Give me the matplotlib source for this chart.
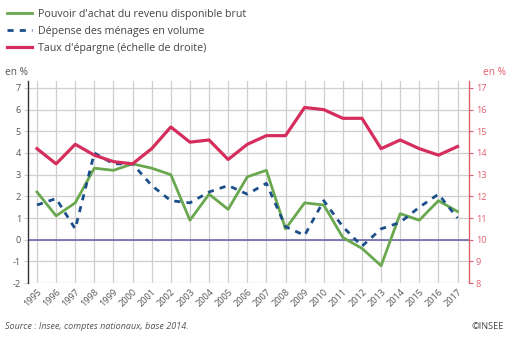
import matplotlib
matplotlib.use("Agg")
import matplotlib.pyplot as plt

years = list(range(1995, 2018))
pouvoir_achat = [2.2, 1.1, 1.7, 3.3, 3.2, 3.5, 3.3, 3.0, 0.9, 2.1, 1.4, 2.9,
                 3.2, 0.5, 1.7, 1.6, 0.1, -0.4, -1.2, 1.2, 0.9, 1.8, 1.3]
depense = [1.6, 1.9, 0.5, 4.0, 3.5, 3.5, 2.5, 1.8, 1.7, 2.2, 2.5, 2.1,
           2.6, 0.6, 0.2, 1.8, 0.6, -0.3, 0.5, 0.8, 1.5, 2.1, 1.0]
epargne = [14.2, 13.5, 14.4, 13.9, 13.6, 13.5, 14.2, 15.2, 14.5, 14.6, 13.7, 14.4,
           14.8, 14.8, 16.1, 16.0, 15.6, 15.6, 14.2, 14.6, 14.2, 13.9, 14.3]
left_ticks = list(range(-2, 8))
right_ticks = list(range(8, 18))

labels = ["Pouvoir d'achat du revenu disponible brut",
          "Dépense des ménages en volume",
          "Taux d'épargne (échelle de droite)"]

GREEN = "#6aa84f"
BLUE = "#1c4f8a"
RED = "#d62e5c"
AXRED = "#e0606e"
TXT = "#555555"

plt.rcParams['font.family'] = ['Open Sans', 'DejaVu Sans']

fig = plt.figure(figsize=(5.12, 3.39), dpi=100)
ax = fig.add_axes([0.0547, 0.165, 0.861, 0.596])
ax2 = ax.twinx()

ax.set_xlim(1994.53, 2017.59)
ax.set_ylim(-2, 7.32)
ax2.set_ylim(8, 17.32)

ax.set_xticks(years)
ax.set_xticklabels([str(y) for y in years], rotation=45, ha='right',
                   rotation_mode='anchor', fontsize=6.6, color=TXT)
ax.set_yticks(left_ticks)
ax.set_yticklabels([str(t) for t in left_ticks], fontsize=6.6, color=TXT)
ax2.set_yticks(right_ticks)
ax2.set_yticklabels([str(t) for t in right_ticks], fontsize=6.6, color=AXRED)

ax.grid(True, color="#cfcfcf", linewidth=0.9)
ax.set_axisbelow(True)
ax.tick_params(axis='x', length=0, pad=3)
ax.tick_params(axis='y', length=3, color="#cfcfcf", pad=2)
ax2.tick_params(axis='y', length=3, color=AXRED, pad=2)

for s in ['top', 'bottom', 'right']:
    ax.spines[s].set_visible(False)
for s in ['top', 'bottom', 'left']:
    ax2.spines[s].set_visible(False)
ax.spines['left'].set_color("#333333")
ax.spines['left'].set_linewidth(1.0)
ax2.spines['right'].set_color(AXRED)
ax2.spines['right'].set_linewidth(1.0)

ax.axhline(0, color="#6a6aa8", linewidth=1.2, zorder=1)

l1, = ax.plot(years, pouvoir_achat, color=GREEN, linewidth=2.0, zorder=3)
l2, = ax.plot(years, depense, color=BLUE, linewidth=2.0, linestyle=(0, (2.2, 2.2)), zorder=4)
l3, = ax2.plot(years, epargne, color=RED, linewidth=2.3, zorder=3)

fig.legend([l1, l2, l3], labels, loc='upper left', bbox_to_anchor=(0.0, 0.995),
           frameon=False, fontsize=7.7, labelcolor="#444444", handlelength=2.3,
           handletextpad=0.55, labelspacing=0.55, borderaxespad=0.3)

fig.text(0.01, 0.785, "en %", fontsize=7.3, color=TXT, ha='left', va='center')
fig.text(0.988, 0.785, "en %", fontsize=7.3, color=AXRED, ha='right', va='center')
fig.text(0.01, 0.038, "Source : Insee, comptes nationaux, base 2014.", fontsize=6.5,
         color=TXT, style='italic', ha='left', va='center')
fig.text(0.985, 0.038, "©INSEE", fontsize=6.6, color="#444444", ha='right', va='center')

fig.savefig("out.png", dpi=100)
